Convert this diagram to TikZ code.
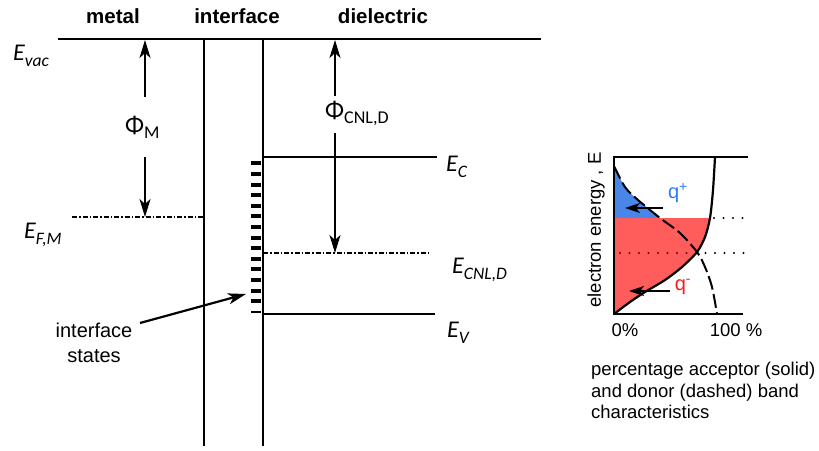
\documentclass[tikz,border=0pt]{standalone}
\usepackage{fontspec}
\setmainfont{Liberation Sans}
\newfontfamily\calib{Carlito}
\usetikzlibrary{arrows.meta}
\newcommand\myElab[2]{{\calib\itshape\fontsize{24}{24}\selectfont #1\raisebox{-0.28em}{\fontsize{17.5}{17.5}\selectfont #2}}}
\newcommand\myPhi[1]{{\calib\fontsize{25}{25}\selectfont Φ\raisebox{-0.22em}{\fontsize{18}{18}\selectfont #1}}}
\definecolor{bluefill}{HTML}{4A86EA}
\definecolor{redfill}{HTML}{FF5C5C}
\definecolor{qblue}{HTML}{2F7BF5}
\definecolor{qred}{HTML}{FF1A1A}
\begin{document}
\begin{tikzpicture}[x=1pt,y=-1pt,
  thick line/.style={line width=2.4pt},
  ddline/.style={line width=1.6pt, dash pattern=on 5pt off 2pt on 1.5pt off 2pt},
  bigarr/.style={line width=2.2pt,-{Stealth[length=18pt,width=11pt,inset=5pt]}},
  smallarr/.style={line width=2.2pt,-{Stealth[length=15pt,width=10pt,inset=4pt]}},
  hdr/.style={font=\fontsize{20.5}{24}\selectfont\bfseries, inner sep=0},
  lab/.style={inner sep=0},
  plotlab/.style={font=\fontsize{18.5}{21.5}\selectfont, inner sep=0},
  dotline/.style={line width=2.2pt, dash pattern=on 0pt off 9.5pt, line cap=round}
]
\useasboundingbox (0,0) rectangle (819,450);

% headers
\node[hdr] (metal) at (113,16) {metal};
\node[hdr] (interf) at (237,16) {interface};
\node[hdr] (diel) at (383,16) {dielectric};

% main lines
\coordinate (vacL) at (58,39);
\coordinate (vacR) at (541,39);
\draw[thick line] (vacL) -- (vacR);
\coordinate (mt) at (204,39);
\coordinate (mb) at (204,446);
\coordinate (dt) at (263,39);
\coordinate (db) at (263,446);
\draw[thick line] (mt) -- (mb);
\draw[thick line] (dt) -- (db);

\coordinate (ecL) at (263,157);
\coordinate (ecR) at (437,157);
\draw[thick line] (ecL) -- (ecR);
\coordinate (evL) at (263,314);
\coordinate (evR) at (435,314);
\draw[thick line] (evL) -- (evR);
\coordinate (cnlL) at (263,253);
\coordinate (cnlR) at (428,253);
\draw[ddline] (cnlL) -- (cnlR);
\coordinate (efL) at (72,217);
\coordinate (efR) at (204,217);
\draw[ddline] (efL) -- (efR);

% energy labels
\node[lab, anchor=base west] (evac) at (13,60) {\myElab{E}{vac}};
\node[lab, anchor=base west] (efm) at (24,238) {\myElab{E}{F,M}};
\node[lab, anchor=base west] (ec) at (446,171) {\myElab{E}{C}};
\node[lab, anchor=base west] (ecnl) at (452,273) {\myElab{E}{CNL,D}};
\node[lab, anchor=base west] (ev) at (447,337) {\myElab{E}{V}};

% work function arrows
\coordinate (pmA) at (145,97);
\coordinate (pmT) at (145,40);
\coordinate (pmB) at (145,157);
\coordinate (pmF) at (145,217);
\draw[bigarr] (pmA) -- (pmT);
\draw[bigarr] (pmB) -- (pmF);
\node[lab, anchor=base west] (phim) at (125,133) {\myPhi{M}};

\coordinate (pcA) at (335,96);
\coordinate (pcT) at (335,40);
\coordinate (pcB) at (335,133);
\coordinate (pcF) at (335,253);
\draw[bigarr] (pcA) -- (pcT);
\draw[bigarr] (pcB) -- (pcF);
\node[lab, anchor=base west] (phic) at (325,118) {\myPhi{CNL,D}};

% interface states
\foreach \i in {0,...,13} {
  \draw[line width=4pt] (251,163.3+10.6*\i) -- (261,163.3+10.6*\i);
}
\draw[line width=2.3pt] (251,311.7) -- (261,311.7);
\node[lab, align=center, anchor=north, font=\fontsize{20}{25}\selectfont] (ist) at (94,323) {interface\\states};
\coordinate (istT) at (140,323);
\coordinate (istH) at (246,294);
\draw[bigarr] (istT) -- (istH);

% right plot
\fill[bluefill] plot[smooth] coordinates {(614,166) (625,187) (638,200) (660,218)} -- (614,218) -- cycle;
\fill[redfill] plot[smooth] coordinates {(614,314) (630,302) (645,292) (665,280) (682,267) (697,252) (705,237) (710,218)} -- (614,218) -- cycle;
\coordinate (d1a) at (714,218);
\coordinate (d1b) at (745,218);
\draw[dotline] (d1a) -- (d1b);
\coordinate (d2a) at (620,253);
\coordinate (d2m) at (696,253);
\coordinate (d2b) at (745,253);
\draw[dotline, red!45!black] (d2a) -- (d2m);
\draw[dotline] (d2m) -- (d2b);

\draw[line width=2.2pt] plot[smooth] coordinates {(614,314) (630,302) (645,292) (665,280) (682,267) (697,252) (705,237) (710,218) (713,190) (715,157)};
\draw[line width=2pt, dash pattern=on 14pt off 4.5pt] plot[smooth] coordinates {(614,166) (625,187) (638,200) (660,218) (680,233) (697,252) (705,267) (712,287) (717,314)};

\coordinate (axTL) at (614,157);
\coordinate (axTR) at (748,157);
\coordinate (axBL) at (614,314);
\coordinate (axBR) at (743,314);
\draw[line width=2.4pt] (axTR) -- (axTL) -- (axBL) -- (axBR);

\coordinate (qpT) at (663,208);
\coordinate (qpH) at (625,208);
\draw[smallarr] (qpT) -- (qpH);
\coordinate (qmT) at (670,291);
\coordinate (qmH) at (629,291);
\draw[smallarr] (qmT) -- (qmH);
\node[lab, text=qblue, font=\fontsize{20}{20}\selectfont] (qp) at (678,193) {q\textsuperscript{+}};
\node[lab, text=qred, font=\fontsize{20}{20}\selectfont] (qm) at (683,287) {q\textsuperscript{-}};

\node[plotlab, rotate=90] (yl) at (596,230) {electron energy , E};
\node[plotlab] (p0) at (625,330) {0\%};
\node[plotlab] (p100) at (736,330) {100 \%};
\node[plotlab, align=left, anchor=north west] (cap) at (591,362) {percentage acceptor (solid)\\and donor (dashed) band\\characteristics};
\end{tikzpicture}
\end{document}
